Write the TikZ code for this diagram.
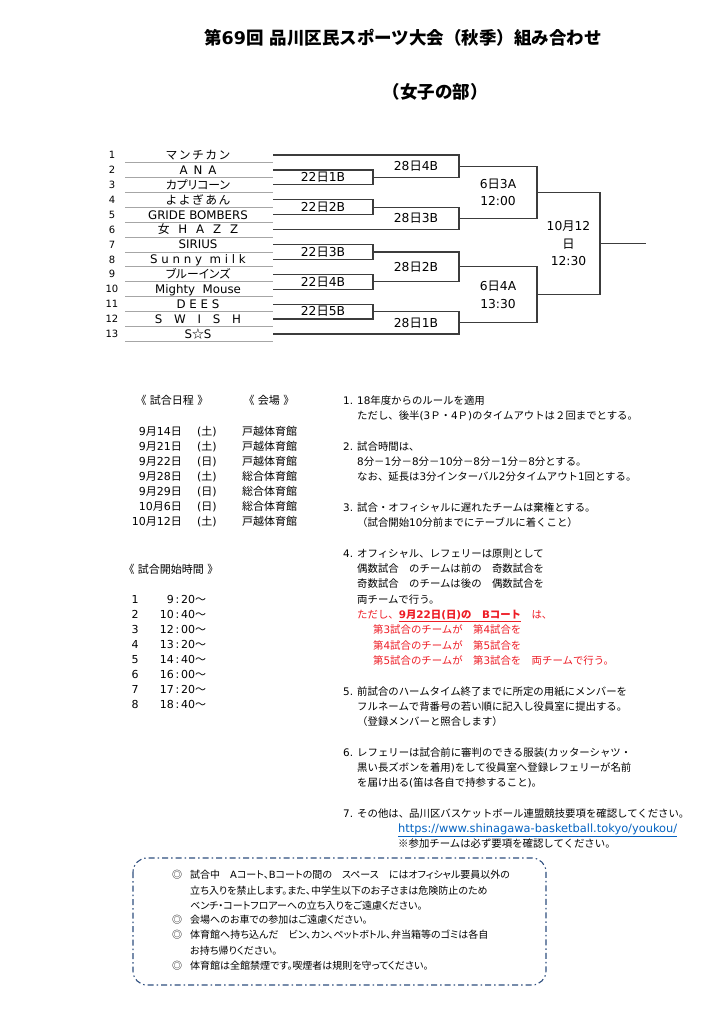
\documentclass[tikz,border=0pt]{standalone}
\usepackage{fontspec}
\usetikzlibrary{calc,positioning}
\setmainfont{DejaVu Sans}
\newfontfamily\latfont{DejaVu Sans}
\newfontfamily\jpfont{Noto Sans CJK JP}
\newfontfamily\jpprop{Noto Sans CJK JP}[RawFeature=+palt]
\newcommand\jpcur{\jpfont}
% Japanese runs in Noto, the rest in DejaVu
\newXeTeXintercharclass\jpclass
\newcount\jpcnt
\newcommand\jprange[2]{\jpcnt=#1\relax
  \loop\XeTeXcharclass\jpcnt=\jpclass
  \ifnum\jpcnt<#2\advance\jpcnt by 1\repeat}
\jprange{"3000}{"30FF}
\jprange{"4E00}{"9FFF}
\jprange{"FF00}{"FFEF}
\XeTeXcharclass"2606=\jpclass
\XeTeXcharclass"25CE=\jpclass
\XeTeXcharclass"203B=\jpclass
\XeTeXinterchartoks 0 \jpclass={\jpcur}
\XeTeXinterchartoks 4095 \jpclass={\jpcur}
\XeTeXinterchartoks \jpclass 0={\latfont}
\XeTeXinterchartoks \jpclass 4095={\latfont}
\XeTeXinterchartokenstate=1
\newcommand\narrowjp[1]{{\def\jpcur{\jpprop}#1}}
\newcommand\tgap{\hspace{0.75em}}
\newcommand\kgap{\hspace{1.5pt}}
\definecolor{bktline}{HTML}{3C3C3C}
\definecolor{rulegray}{HTML}{A6A6A6}
\definecolor{notered}{HTML}{EE1C25}
\definecolor{linkblue}{HTML}{0563C1}
\definecolor{memoblue}{HTML}{2F4F7F}

\begin{document}
\begin{tikzpicture}[x=1pt, y=-1pt,
    title/.style={font=\bfseries\fontsize{17.5}{21}\selectfont, inner sep=0},
    num/.style={font=\fontsize{10}{12}\selectfont, anchor=base, inner sep=0},
    team/.style={font=\fontsize{11.8}{14}\selectfont, anchor=base, inner sep=0},
    game/.style={font=\fontsize{12.3}{17.5}\selectfont, align=center, inner sep=0},
    sched/.style={font=\fontsize{11}{13}\selectfont, inner sep=0},
    note/.style={font=\fontsize{10.4}{15.3}\selectfont, anchor=north west,
                 align=left, inner sep=0},
    memo/.style={font=\fontsize{10}{15.1}\selectfont\def\jpcur{\jpprop},
                 anchor=north west, align=left, inner sep=0},
    uline/.style={draw=rulegray, line width=0.9pt},
    bline/.style={draw=bktline, line width=1.2pt},
    memobox/.style={draw=memoblue, line width=1.1pt, rounded corners=14pt,
                    dash pattern=on 6pt off 3pt on 1.5pt off 3pt}
]
\useasboundingbox (0,0) rectangle (724,1024);
\fill[white] (0,0) rectangle (724,1024);

\node[title] (ttl) at (403,38) {第69回 品川区民スポーツ大会（秋季）組み合わせ};
\node[title] (sub) at (435,92) {（女子の部）};

% teams
\foreach \name [count=\i] in {{マ\kgap ン\kgap チ\kgap カ\kgap ン},
    {A\kern6pt N\kern6pt A},
    {\narrowjp{カプリコーン}}, {よ\kgap よ\kgap ぎ\kgap あ\kgap ん}, {GRIDE BOMBERS},
    {女\tgap H\tgap A\tgap Z\tgap Z}, {SIRIUS}, {S u n n y\ \ m i l k},
    {\narrowjp{ブルーインズ}}, {Mighty\ \ Mouse}, {D E E S},
    {S\hspace{1em}W\hspace{1em}I\hspace{1em}S\hspace{1em}H}, {S☆S}} {
  \pgfmathsetmacro\ty{155+(\i-1)*14.917}
  \node[num] (n\i) at (112,\ty+3.6) {\i};
  \node[team] (t\i) at (198,\ty+4.4) {\name};
  \draw[uline] (125,\ty+7.5) -- (273,\ty+7.5);
  \coordinate (e\i) at (273,\ty);
}
\coordinate (x1) at (373,0);
\coordinate (x2) at (459,0);
\coordinate (x3) at (537,0);
\coordinate (x4) at (600,0);
\coordinate (x5) at (646,0);

% 22nd
\foreach \a/\b/\lab [count=\k] in {2/3/1B, 4/5/2B, 7/8/3B, 9/10/4B, 11/12/5B} {
  \draw[bline] (e\a) -- (e\a -| x1) -- (e\b -| x1) -- (e\b);
  \coordinate (a\k) at ($(e\a -| x1)!.5!(e\b -| x1)$);
  \node[game] (fa\k) at ($(e\a)!.5!(e\b -| x1)$) {22日\lab};
}
% 28th
\foreach \p/\q/\lab [count=\k] in {e1/a1/4B, a2/e6/3B, a3/a4/2B, a5/e13/1B} {
  \draw[bline] (\p) -- (\p -| x2) -- (\q -| x2) -- (\q);
  \coordinate (b\k) at ($(\p -| x2)!.5!(\q -| x2)$);
  \node[game] (fb\k) at ($(\p -| x1)!.5!(\q -| x2)$) {28日\lab};
}
% 6th
\foreach \p/\q/\lab [count=\k] in {b1/b2/{3A\\12:00}, b3/b4/{4A\\13:30}} {
  \draw[bline] (\p) -- (\p -| x3) -- (\q -| x3) -- (\q);
  \coordinate (c\k) at ($(\p -| x3)!.5!(\q -| x3)$);
  \node[game] (fc\k) at ($(\p)!.5!(\q -| x3)$) {6日\lab};
}
% final
\draw[bline] (c1) -- (c1 -| x4) -- (c2 -| x4) -- (c2);
\coordinate (f) at ($(c1 -| x4)!.5!(c2 -| x4)$);
\draw[bline] (f) -- (f -| x5);
\node[game] (fd) at ($(c1)!.5!(c2 -| x4)$) {10月12\\日\\12:30};

% schedule
\node[sched] (hd1) at (172,400) {《 試合日程 》};
\node[sched] (hd2) at (269,400) {《 会場 》};
\foreach \d/\w/\v [count=\k from 0] in {9月14日/土/戸越体育館, 9月21日/土/戸越体育館,
    9月22日/日/戸越体育館, 9月28日/土/総合体育館, 9月29日/日/総合体育館,
    10月6日/日/総合体育館, 10月12日/土/戸越体育館} {
  \node[sched, anchor=base east] (d\k) at (182,435.2+15*\k) {\d};
  \node[sched, anchor=base west] (w\k) at (197,435.2+15*\k) {(\w)};
  \node[sched, anchor=base west] (v\k) at (242,435.2+15*\k) {\v};
}
\node[sched] (hd3) at (171,569) {《 試合開始時間 》};
\foreach \h/\m [count=\k] in {9/20, 10/40, 12/00, 13/20, 14/40, 16/00, 17/20, 18/40} {
  \node[sched, anchor=base] (i\k) at (135,588+15*\k) {\k};
  \node[sched, anchor=base east] (hr\k) at (174,588+15*\k) {\h};
  \node[sched, anchor=base] (cl\k) at (177.5,588+15*\k) {:};
  \node[sched, anchor=base west] (mn\k) at (181,588+15*\k) {\m～};
}

% rules
\foreach \y [count=\k] in {393.3, 439.3, 500.3, 546.3, 684.3, 745.3, 806.3}
  \node[note] (k\k) at (343,\y) {\strut\k.};
\node[note] (p1) at ($(k1.north west)+(14,0)$) {\strut 18年度からのルールを適用\\
  ただし、後半(3Ｐ・4Ｐ)のタイムアウトは２回までとする。};
\node[note] (p2) at ($(k2.north west)+(14,0)$) {\strut 試合時間は、\\
  8分－1分－8分－10分－8分－1分－8分とする。\\
  なお、延長は3分インターバル2分タイムアウト1回とする。};
\node[note] (p3) at ($(k3.north west)+(14,0)$) {\strut 試合・オフィシャルに遅れたチームは棄権とする。\\
  （試合開始10分前までにテーブルに着くこと）};
\node[note] (p4) at ($(k4.north west)+(14,0)$) {\strut オフィシャル、レフェリーは原則として\\
  偶数試合　のチームは前の　奇数試合を\\
  奇数試合　のチームは後の　偶数試合を\\
  両チームで行う。\\
  \textcolor{notered}{ただし、\underline{\textbf{9月22日(日)の　Bコート}}　は、}\\
  \textcolor{notered}{\hspace*{16pt}第3試合のチームが　第4試合を}\\
  \textcolor{notered}{\hspace*{16pt}第4試合のチームが　第5試合を}\\
  \textcolor{notered}{\hspace*{16pt}第5試合のチームが　第3試合を　両チームで行う。}};
\node[note] (p5) at ($(k5.north west)+(14,0)$) {\strut 前試合のハームタイム終了までに所定の用紙にメンバーを\\
  フルネームで背番号の若い順に記入し役員室に提出する。\\
  （登録メンバーと照合します）};
\node[note] (p6) at ($(k6.north west)+(14,0)$) {\strut レフェリーは試合前に審判のできる服装(カッターシャツ・\\
  黒い長ズボンを着用)をして役員室へ登録レフェリーが名前\\
  を届け出る(笛は各自で持参すること)。};
\node[note] (p7) at ($(k7.north west)+(14,0)$) {\strut その他は、品川区バスケットボール連盟競技要項を確認してください。\\
  \hspace*{41pt}{\fontsize{11.4}{15.3}\selectfont\textcolor{linkblue}{\underline{https://www.shinagawa-basketball.tokyo/youkou/}}}\\
  \hspace*{41pt}※参加チームは必ず要項を確認してください。};

% notice box
\draw[memobox] (133,858) rectangle (546,985);
\foreach \y [count=\k] in {868.2, 913.2, 928.2, 959.2}
  \node[memo] (o\k) at (172,\y) {\strut ◎};
\node[memo] (q1) at ($(o1.north west)+(18,0)$) {\strut 試合中　Aコート、Bコートの間の　スペース　にはオフィシャル要員以外の\\
  立ち入りを禁止します。また、中学生以下のお子さまは危険防止のため\\
  ベンチ・コートフロアーへの立ち入りをご遠慮ください。};
\node[memo] (q2) at ($(o2.north west)+(18,0)$) {\strut 会場へのお車での参加はご遠慮ください。};
\node[memo] (q3) at ($(o3.north west)+(18,0)$) {\strut 体育館へ持ち込んだ　ビン、カン、ペットボトル、弁当箱等のゴミは各自\\
  お持ち帰りください。};
\node[memo] (q4) at ($(o4.north west)+(18,0)$) {\strut 体育館は全館禁煙です。喫煙者は規則を守ってください。};
\end{tikzpicture}
\end{document}
